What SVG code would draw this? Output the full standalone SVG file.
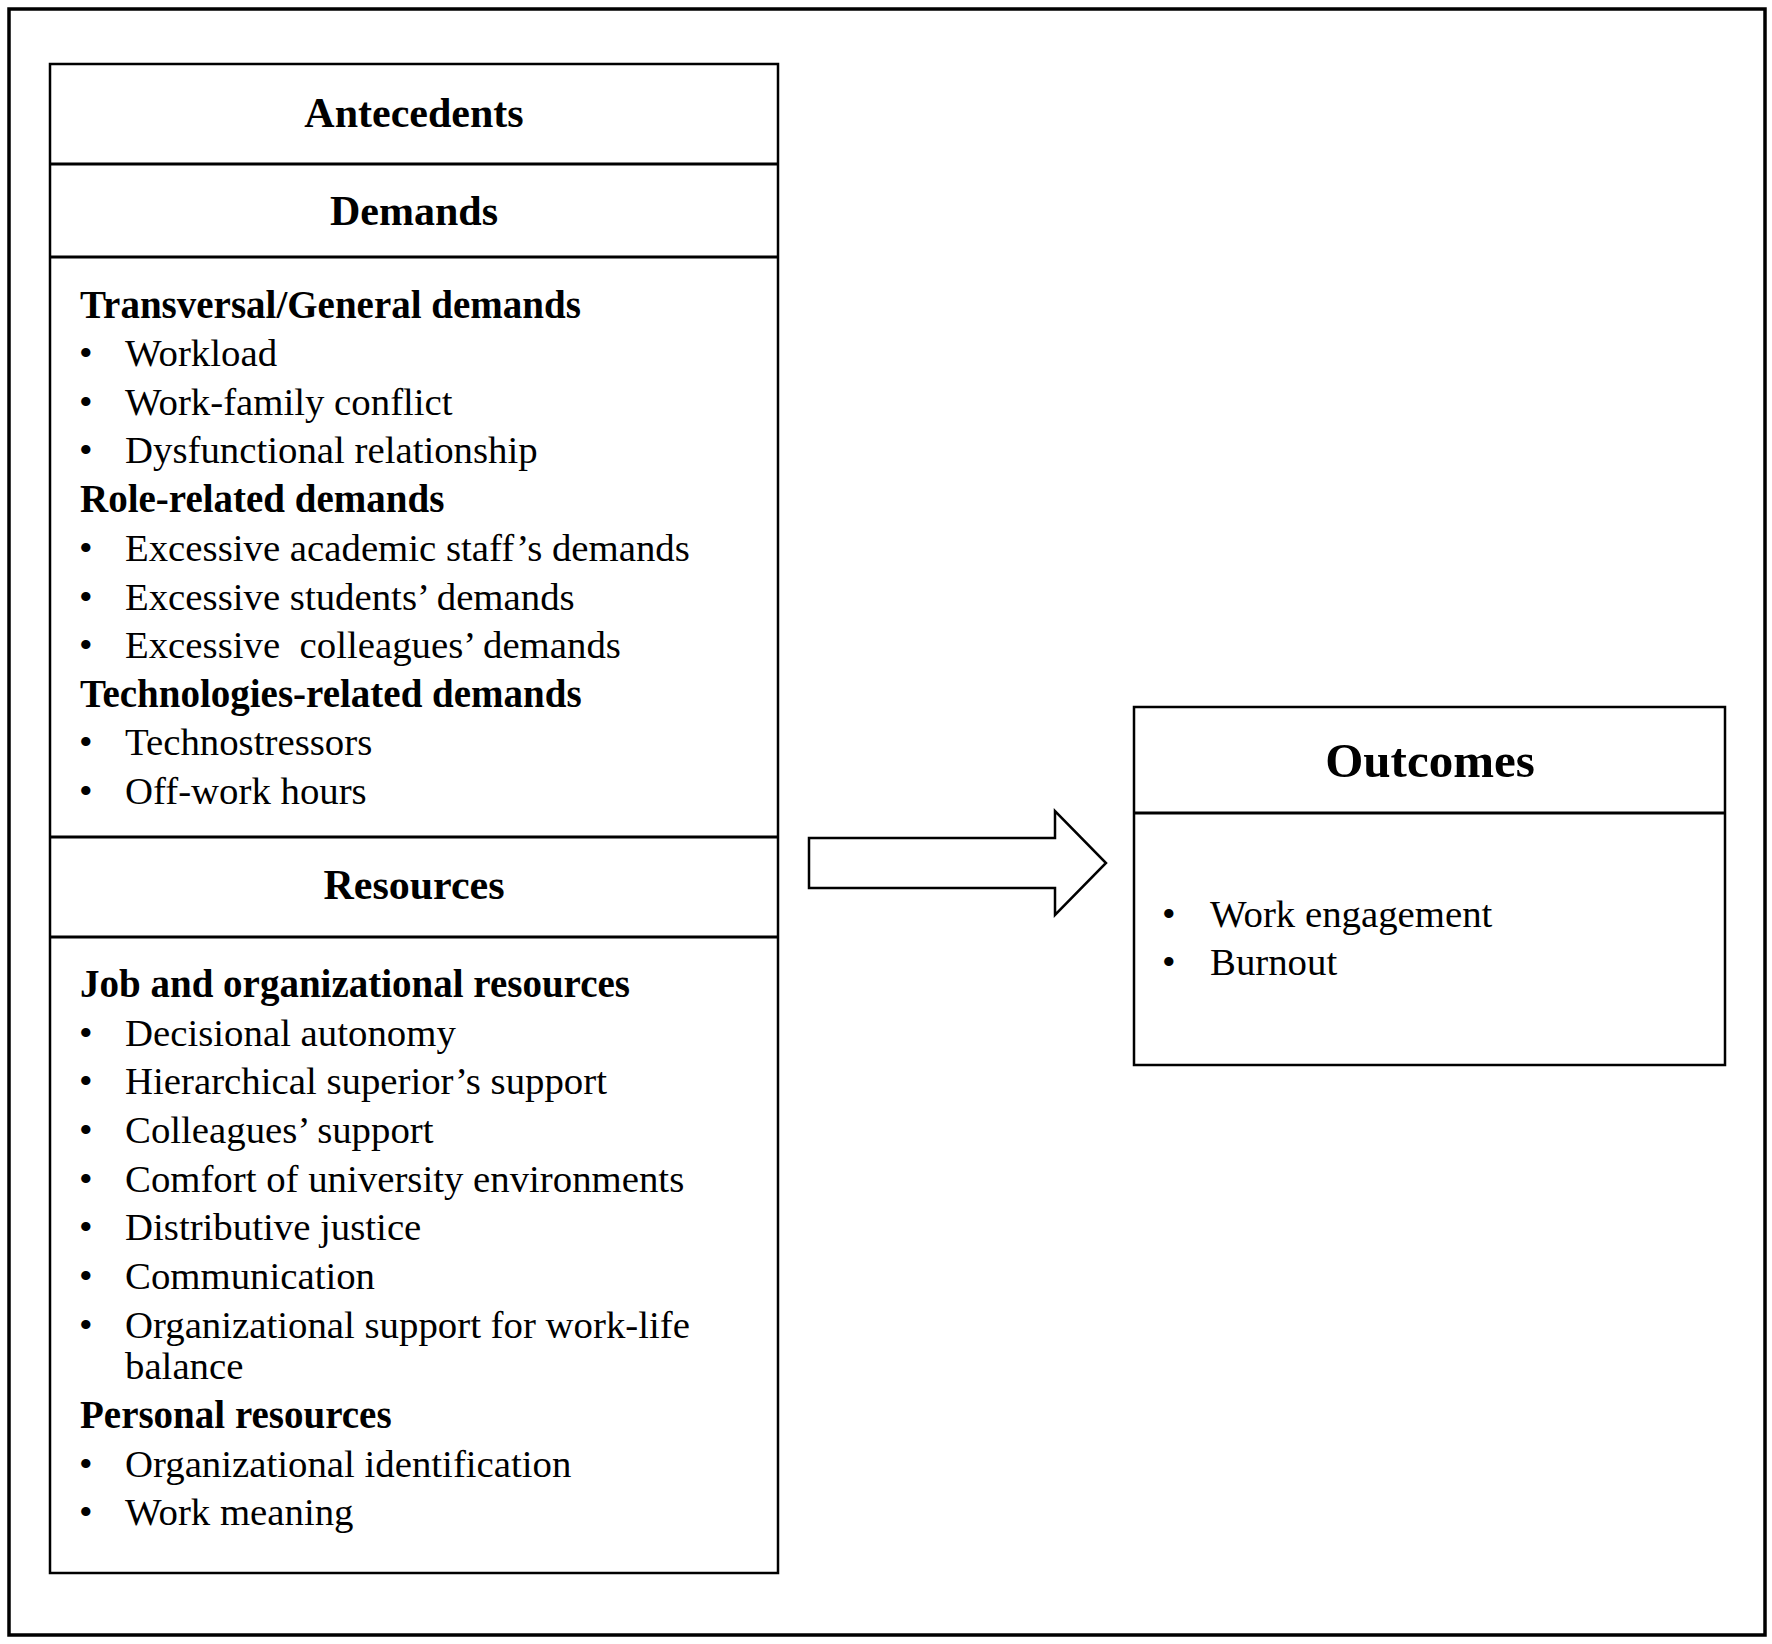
<svg xmlns="http://www.w3.org/2000/svg" width="1772" height="1644" viewBox="0 0 1772 1644">
<style>
.frame{fill:none;stroke:#000;stroke-width:3.5}
.box{fill:#fff;stroke:#000;stroke-width:2.5}
.div{stroke:#000;stroke-width:3}
.hd{font-family:"Liberation Serif","Times New Roman",serif;font-weight:bold;font-size:42px;text-anchor:middle;fill:#000}
.sub{font-family:"Liberation Serif","Times New Roman",serif;font-weight:bold;font-size:39px;fill:#000}
.it{font-family:"Liberation Serif","Times New Roman",serif;font-size:38.8px;fill:#000;white-space:pre}
.arrow{fill:#fff;stroke:#000;stroke-width:2.5;stroke-linejoin:miter}
</style>
<rect width="1772" height="1644" fill="#fff"/>
<rect class="frame" x="9" y="9" width="1756" height="1626"/>

<g id="antecedents">
  <rect class="box" x="50" y="64" width="728" height="1509"/>
  <line class="div" x1="50" y1="164" x2="778" y2="164"/>
  <line class="div" x1="50" y1="257" x2="778" y2="257"/>
  <line class="div" x1="50" y1="837" x2="778" y2="837"/>
  <line class="div" x1="50" y1="937" x2="778" y2="937"/>
  <text class="hd" x="414" y="127">Antecedents</text>
</g>

<g id="demands">
  <text class="hd" x="414" y="225">Demands</text>
  <text class="sub" x="80" y="318">Transversal/General demands</text>
  <text class="it" x="79" y="366">•</text><text class="it" x="125" y="366">Workload</text>
  <text class="it" x="79" y="415">•</text><text class="it" x="125" y="415">Work-family conflict</text>
  <text class="it" x="79" y="463">•</text><text class="it" x="125" y="463">Dysfunctional relationship</text>
  <text class="sub" x="80" y="512">Role-related demands</text>
  <text class="it" x="79" y="561">•</text><text class="it" x="125" y="561">Excessive academic staff’s demands</text>
  <text class="it" x="79" y="610">•</text><text class="it" x="125" y="610">Excessive students’ demands</text>
  <text class="it" x="79" y="658">•</text><text class="it" x="125" y="658">Excessive  colleagues’ demands</text>
  <text class="sub" x="80" y="707">Technologies-related demands</text>
  <text class="it" x="79" y="755">•</text><text class="it" x="125" y="755">Technostressors</text>
  <text class="it" x="79" y="804">•</text><text class="it" x="125" y="804">Off-work hours</text>
</g>

<g id="resources">
  <text class="hd" x="414" y="899">Resources</text>
  <text class="sub" x="80" y="997">Job and organizational resources</text>
  <text class="it" x="79" y="1046">•</text><text class="it" x="125" y="1046">Decisional autonomy</text>
  <text class="it" x="79" y="1094">•</text><text class="it" x="125" y="1094">Hierarchical superior’s support</text>
  <text class="it" x="79" y="1143">•</text><text class="it" x="125" y="1143">Colleagues’ support</text>
  <text class="it" x="79" y="1192">•</text><text class="it" x="125" y="1192">Comfort of university environments</text>
  <text class="it" x="79" y="1240">•</text><text class="it" x="125" y="1240">Distributive justice</text>
  <text class="it" x="79" y="1289">•</text><text class="it" x="125" y="1289">Communication</text>
  <text class="it" x="79" y="1338">•</text><text class="it" x="125" y="1338">Organizational support for work-life</text>
  <text class="it" x="125" y="1379">balance</text>
  <text class="sub" x="80" y="1428">Personal resources</text>
  <text class="it" x="79" y="1477">•</text><text class="it" x="125" y="1477">Organizational identification</text>
  <text class="it" x="79" y="1525">•</text><text class="it" x="125" y="1525">Work meaning</text>
</g>

<g id="outcomes">
  <rect class="box" x="1134" y="707" width="591" height="358"/>
  <line class="div" x1="1134" y1="813" x2="1725" y2="813"/>
  <text class="hd" x="1430" y="777" style="font-size:49px">Outcomes</text>
  <text class="it" x="1162" y="927">•</text><text class="it" x="1210" y="927">Work engagement</text>
  <text class="it" x="1162" y="975">•</text><text class="it" x="1210" y="975">Burnout</text>
</g>

<g id="connectors">
  <polygon class="arrow" points="809,838 1055,838 1055,811 1106,863 1055,915 1055,888 809,888"/>
</g>
</svg>
